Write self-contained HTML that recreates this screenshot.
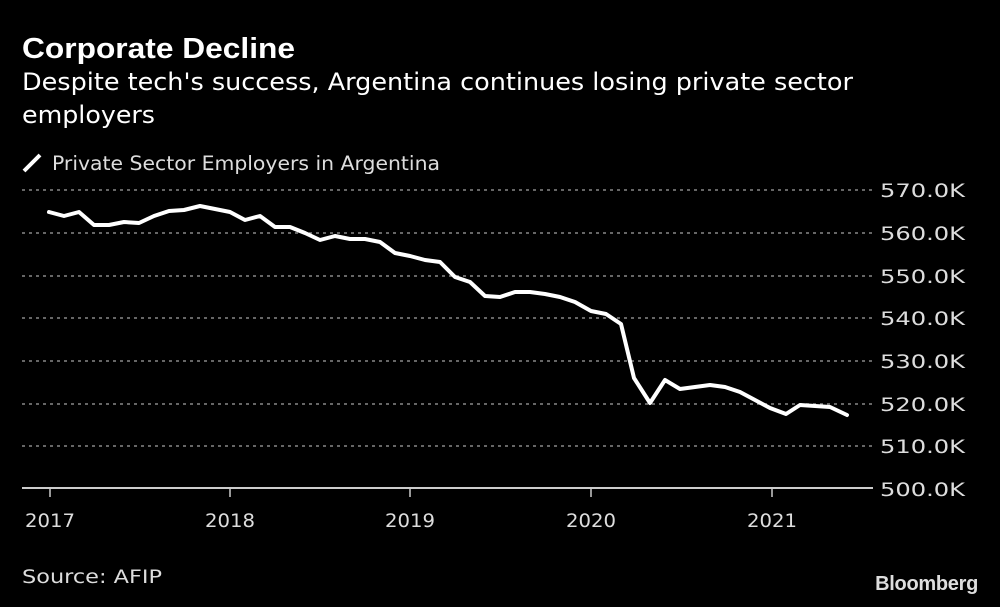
<!DOCTYPE html>
<html><head><meta charset="utf-8"><style>
html,body{margin:0;padding:0;background:#000;}
body{width:1000px;height:603px;overflow:hidden;position:relative;font-family:"DejaVu Sans","Liberation Sans",sans-serif;color:#fff;}
</style></head><body>
<svg width="1000" height="603" viewBox="0 0 1000 603" xmlns="http://www.w3.org/2000/svg">
<text x="22" y="58" font-family="Liberation Sans, sans-serif" font-weight="bold" font-size="29" fill="#fff" textLength="273" lengthAdjust="spacingAndGlyphs">Corporate Decline</text>
<text x="22" y="90" font-family="DejaVu Sans, sans-serif" font-size="24" fill="#fff" textLength="831" lengthAdjust="spacingAndGlyphs">Despite tech's success, Argentina continues losing private sector</text>
<text x="22" y="123" font-family="DejaVu Sans, sans-serif" font-size="24" fill="#fff" textLength="133" lengthAdjust="spacingAndGlyphs">employers</text>
<line x1="24" y1="171" x2="40" y2="155" stroke="#fff" stroke-width="4"/>
<text x="52" y="170" font-family="DejaVu Sans, sans-serif" font-size="19.5" fill="#ddd" textLength="388" lengthAdjust="spacingAndGlyphs">Private Sector Employers in Argentina</text>
<g stroke="#888" stroke-width="1.5" stroke-dasharray="3,4">
<line x1="22" y1="190" x2="872" y2="190"/><line x1="22" y1="233" x2="872" y2="233"/>
<line x1="22" y1="276" x2="872" y2="276"/><line x1="22" y1="318" x2="872" y2="318"/>
<line x1="22" y1="361" x2="872" y2="361"/><line x1="22" y1="404" x2="872" y2="404"/>
<line x1="22" y1="446" x2="872" y2="446"/>
</g>
<line x1="22" y1="488" x2="873" y2="488" stroke="#ccc" stroke-width="2"/>
<g stroke="#ccc" stroke-width="1.5">
<line x1="50" y1="488" x2="50" y2="497"/><line x1="230" y1="488" x2="230" y2="497"/>
<line x1="410" y1="488" x2="410" y2="497"/><line x1="591" y1="488" x2="591" y2="497"/>
<line x1="772" y1="488" x2="772" y2="497"/>
</g>
<g font-family="DejaVu Sans, sans-serif" font-size="19" fill="#ddd">
<text x="880" y="197" textLength="85" lengthAdjust="spacingAndGlyphs">570.0K</text>
<text x="880" y="240" textLength="85" lengthAdjust="spacingAndGlyphs">560.0K</text>
<text x="880" y="283" textLength="85" lengthAdjust="spacingAndGlyphs">550.0K</text>
<text x="880" y="325" textLength="85" lengthAdjust="spacingAndGlyphs">540.0K</text>
<text x="880" y="368" textLength="85" lengthAdjust="spacingAndGlyphs">530.0K</text>
<text x="880" y="411" textLength="85" lengthAdjust="spacingAndGlyphs">520.0K</text>
<text x="880" y="453" textLength="85" lengthAdjust="spacingAndGlyphs">510.0K</text>
<text x="880" y="496" textLength="85" lengthAdjust="spacingAndGlyphs">500.0K</text>
<text x="25" y="527" textLength="50" lengthAdjust="spacingAndGlyphs">2017</text>
<text x="205" y="527" textLength="50" lengthAdjust="spacingAndGlyphs">2018</text>
<text x="385" y="527" textLength="50" lengthAdjust="spacingAndGlyphs">2019</text>
<text x="566" y="527" textLength="50" lengthAdjust="spacingAndGlyphs">2020</text>
<text x="747" y="527" textLength="50" lengthAdjust="spacingAndGlyphs">2021</text>
<text x="22" y="583" textLength="140" lengthAdjust="spacingAndGlyphs">Source: AFIP</text>
</g>
<text x="978" y="590" text-anchor="end" font-family="Liberation Sans, sans-serif" font-weight="bold" font-size="20" fill="#ddd" letter-spacing="-0.3">Bloomberg</text>
<polyline fill="none" stroke="#fff" stroke-width="4" stroke-linejoin="round" stroke-linecap="round" points="49,212 64,216 79,212 94,225 109,225 124,222 139,223 154,216 169,211 184,210 200,206 215,209 230,212 245,220 260,216 275,227 290,227 305,233 320,240 335,236 350,239 365,239 380,242 395,253 410,256 425,260 440,262 455,277 470,282 485,296 500,297 515,292 530,292 545,294 560,297 575,302 591,311 606,314 621,324 634,378 650,403 665,380 680,389 695,387 710,385 725,387 740,392 755,400 770,408 786,414 800,405 815,406 830,407 847,415"/>
</svg>
</body></html>
